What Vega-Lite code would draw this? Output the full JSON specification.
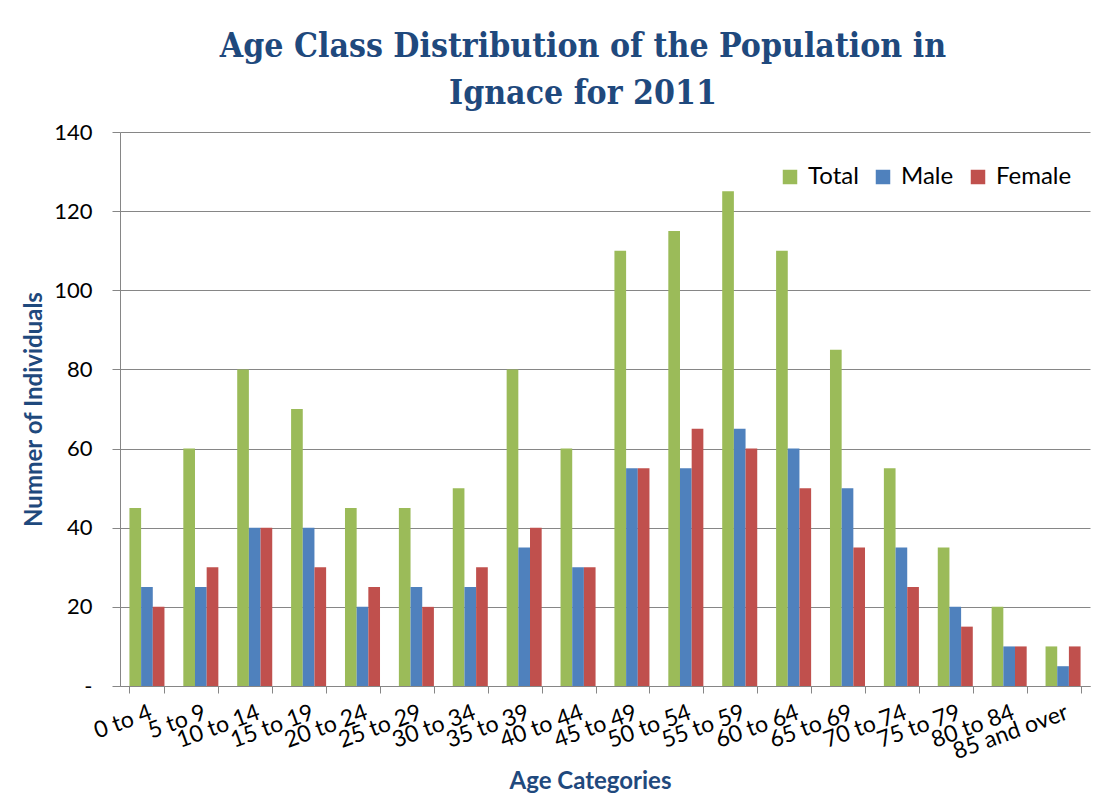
{
  "$schema": "https://vega.github.io/schema/vega-lite/v6.json",
  "width": 970,
  "height": 554,
  "autosize": {"type": "none"},
  "padding": {"left": 120, "top": 132, "right": 5, "bottom": 117},
  "background": "white",
  "title": {
    "text": ["Age Class Distribution of the Population in", "Ignace for 2011"],
    "font": "DejaVu Serif Condensed",
    "fontWeight": "bold",
    "fontSize": 33.5,
    "color": "#1F497D",
    "anchor": "middle",
    "dx": -22,
    "offset": 10,
    "lineHeight": 47
  },
  "data": {
    "values": [
      {"age": "0 to 4", "group": "Total", "value": 45}, {"age": "0 to 4", "group": "Male", "value": 25}, {"age": "0 to 4", "group": "Female", "value": 20},
      {"age": "5 to 9", "group": "Total", "value": 60}, {"age": "5 to 9", "group": "Male", "value": 25}, {"age": "5 to 9", "group": "Female", "value": 30},
      {"age": "10 to 14", "group": "Total", "value": 80}, {"age": "10 to 14", "group": "Male", "value": 40}, {"age": "10 to 14", "group": "Female", "value": 40},
      {"age": "15 to 19", "group": "Total", "value": 70}, {"age": "15 to 19", "group": "Male", "value": 40}, {"age": "15 to 19", "group": "Female", "value": 30},
      {"age": "20 to 24", "group": "Total", "value": 45}, {"age": "20 to 24", "group": "Male", "value": 20}, {"age": "20 to 24", "group": "Female", "value": 25},
      {"age": "25 to 29", "group": "Total", "value": 45}, {"age": "25 to 29", "group": "Male", "value": 25}, {"age": "25 to 29", "group": "Female", "value": 20},
      {"age": "30 to 34", "group": "Total", "value": 50}, {"age": "30 to 34", "group": "Male", "value": 25}, {"age": "30 to 34", "group": "Female", "value": 30},
      {"age": "35 to 39", "group": "Total", "value": 80}, {"age": "35 to 39", "group": "Male", "value": 35}, {"age": "35 to 39", "group": "Female", "value": 40},
      {"age": "40 to 44", "group": "Total", "value": 60}, {"age": "40 to 44", "group": "Male", "value": 30}, {"age": "40 to 44", "group": "Female", "value": 30},
      {"age": "45 to 49", "group": "Total", "value": 110}, {"age": "45 to 49", "group": "Male", "value": 55}, {"age": "45 to 49", "group": "Female", "value": 55},
      {"age": "50 to 54", "group": "Total", "value": 115}, {"age": "50 to 54", "group": "Male", "value": 55}, {"age": "50 to 54", "group": "Female", "value": 65},
      {"age": "55 to 59", "group": "Total", "value": 125}, {"age": "55 to 59", "group": "Male", "value": 65}, {"age": "55 to 59", "group": "Female", "value": 60},
      {"age": "60 to 64", "group": "Total", "value": 110}, {"age": "60 to 64", "group": "Male", "value": 60}, {"age": "60 to 64", "group": "Female", "value": 50},
      {"age": "65 to 69", "group": "Total", "value": 85}, {"age": "65 to 69", "group": "Male", "value": 50}, {"age": "65 to 69", "group": "Female", "value": 35},
      {"age": "70 to 74", "group": "Total", "value": 55}, {"age": "70 to 74", "group": "Male", "value": 35}, {"age": "70 to 74", "group": "Female", "value": 25},
      {"age": "75 to 79", "group": "Total", "value": 35}, {"age": "75 to 79", "group": "Male", "value": 20}, {"age": "75 to 79", "group": "Female", "value": 15},
      {"age": "80 to 84", "group": "Total", "value": 20}, {"age": "80 to 84", "group": "Male", "value": 10}, {"age": "80 to 84", "group": "Female", "value": 10},
      {"age": "85 and over", "group": "Total", "value": 10}, {"age": "85 and over", "group": "Male", "value": 5}, {"age": "85 and over", "group": "Female", "value": 10}
    ]
  },
  "mark": {"type": "bar"},
  "encoding": {
    "x": {
      "field": "age",
      "type": "nominal",
      "sort": ["0 to 4","5 to 9","10 to 14","15 to 19","20 to 24","25 to 29","30 to 34","35 to 39","40 to 44","45 to 49","50 to 54","55 to 59","60 to 64","65 to 69","70 to 74","75 to 79","80 to 84","85 and over"],
      "scale": {"paddingInner": 0.35, "paddingOuter": 0.175},
      "axis": {
        "title": "Age Categories",
        "titleFont": "Lato",
        "titleFontWeight": "bold",
        "titleFontSize": 24,
        "titleColor": "#1F497D",
        "titlePadding": 6,
        "titleX": 470,
        "labelFont": "Lato",
        "labelFontSize": 23,
        "labelColor": "#000000",
        "labelAngle": -20,
        "labelAlign": "right",
        "labelBaseline": "top",
        "labelPadding": 8,
        "labelOverlap": false,
        "tickBand": "extent",
        "tickSize": 7,
        "tickColor": "#868686",
        "domainColor": "#868686",
        "grid": false
      }
    },
    "xOffset": {"field": "group", "type": "nominal", "sort": ["Total", "Male", "Female"]},
    "y": {
      "field": "value",
      "type": "quantitative",
      "scale": {"domain": [0, 140]},
      "axis": {
        "title": "Numner of Individuals",
        "titleFont": "Lato",
        "titleFontWeight": "bold",
        "titleFontSize": 24,
        "titleColor": "#1F497D",
        "titlePadding": 7,
        "values": [0, 20, 40, 60, 80, 100, 120, 140],
        "labelExpr": "datum.value == 0 ? '-' : datum.label",
        "labelFont": "Lato",
        "labelFontSize": 22,
        "labelColor": "#000000",
        "labelPadding": 20,
        "tickSize": 8,
        "tickColor": "#868686",
        "domainColor": "#868686",
        "gridColor": "#868686",
        "gridWidth": 1
      }
    },
    "color": {
      "field": "group",
      "type": "nominal",
      "sort": ["Total", "Male", "Female"],
      "scale": {"domain": ["Total", "Male", "Female"], "range": ["#9BBB59", "#4F81BD", "#C0504D"]},
      "legend": {
        "title": null,
        "orient": "none",
        "legendX": 658,
        "legendY": 33,
        "direction": "horizontal",
        "symbolType": "square",
        "symbolSize": 210,
        "symbolStrokeWidth": 0,
        "labelFont": "Lato",
        "labelFontSize": 24,
        "labelColor": "#000000",
        "labelOffset": 6,
        "labelLimit": 300,
        "columnPadding": 12,
        "padding": 0
      }
    }
  },
  "config": {
    "view": {"stroke": null}
  }
}
